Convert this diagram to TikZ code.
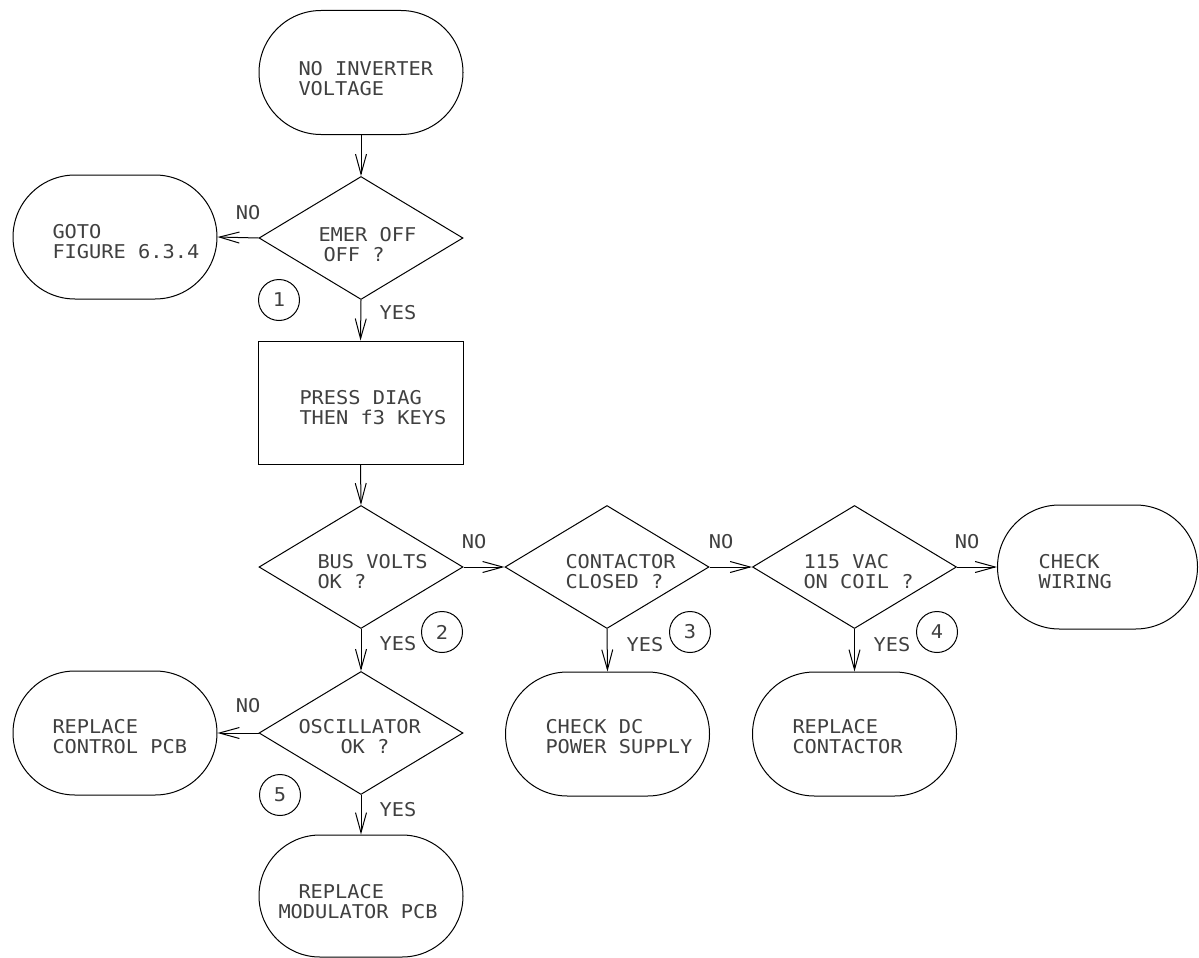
\documentclass[tikz,border=0pt]{standalone}
\usepackage{fontspec}
\newfontfamily\cadfont[FakeStretch=1.07]{DejaVu Sans Mono}
\usetikzlibrary{shapes.geometric,shapes.misc,arrows.meta}
\begin{document}
\begin{tikzpicture}[x=1pt,y=-1pt,
  line width=1pt,
  cadtext/.style={font=\cadfont\fontsize{19}{20}\selectfont, text=black!75},
  term/.style={draw, rounded rectangle,
    minimum width=204pt, minimum height=124pt, inner sep=0pt},
  dec/.style={draw, diamond, minimum width=204pt, minimum height=123pt, inner sep=0pt},
  proc/.style={draw, rectangle, minimum width=205pt, minimum height=123pt, inner sep=0pt},
  num/.style={draw, circle, minimum size=41pt, inner sep=0pt, cadtext},
  txt/.style={anchor=west, align=left, inner sep=0pt, cadtext},
  lbl/.style={inner sep=0pt, cadtext},
  flow/.style={-{Straight Barb[length=20pt,width=11pt]}}
]
\fill[white] (0,0) rectangle (1199,958);
\useasboundingbox (0,0) rectangle (1199,958);

% shapes
\node[term] (start) at (361,72.5) {};
\node[dec]  (emer) at (361,238) {};
\node[term] (goto) at (115,237) {};
\node[proc] (press) at (360.5,402.5) {};
\node[dec]  (bus) at (361,567) {};
\node[dec]  (cont) at (607,567) {};
\node[dec]  (vac) at (854.5,567) {};
\node[term, minimum width=200pt] (wiring) at (1097.5,567) {};
\node[dec]  (osc) at (361,733) {};
\node[term] (ctrl) at (115,733) {};
\node[term] (dcps) at (607.5,734) {};
\node[term] (rcont) at (854.5,734) {};
\node[term, minimum height=122pt] (modu) at (361,896) {};

% texts
\node[txt] (startT) at (298,78.5) {NO INVERTER\\VOLTAGE};
\node[txt] (gotoT) at (52,242) {GOTO\\FIGURE 6.3.4};
\node[txt] (emerT) at (318,245) {EMER OFF\\\hspace{5pt}OFF ?};
\node[txt] (pressT) at (299,407.5) {PRESS DIAG\\THEN f3 KEYS};
\node[txt] (busT) at (317,572) {BUS VOLTS\\OK ?};
\node[txt] (contT) at (565,572) {CONTACTOR\\CLOSED ?};
\node[txt] (vacT) at (803,572) {115 VAC\\ON COIL ?};
\node[txt] (wiringT) at (1038,572) {CHECK\\WIRING};
\node[txt] (ctrlT) at (52,737) {REPLACE\\CONTROL PCB};
\node[txt] (oscT) at (298,737) {OSCILLATOR\\\hspace{42pt}OK ?};
\node[txt] (dcpsT) at (545,737) {CHECK DC\\POWER SUPPLY};
\node[txt] (rcontT) at (792,737) {REPLACE\\CONTACTOR};
\node[txt] (moduT) at (278,902) {\hspace{20pt}REPLACE\\MODULATOR PCB};

% connectors
\draw[flow] (start.south) -- (emer.north);
\draw[flow] (emer.west) -- (goto.east);
\draw[flow] (emer.south) -- (press.north);
\draw[flow] (press.south) -- (bus.north);
\draw[flow] (bus.east) -- (cont.west);
\draw[flow] (cont.east) -- (vac.west);
\draw[flow] (vac.east) -- (wiring.west);
\draw[flow] (bus.south) -- (osc.north);
\draw[flow] (cont.south) -- (dcps.north);
\draw[flow] (vac.south) -- (rcont.north);
\draw[flow] (osc.west) -- (ctrl.east);
\draw[flow] (osc.south) -- (modu.north);

% branch labels
\node[lbl] (no1) at (248,213) {NO};
\node[lbl] (yes1) at (398,313) {YES};
\node[lbl] (no2) at (474,542) {NO};
\node[lbl] (no3) at (721,542) {NO};
\node[lbl] (no4) at (967,542) {NO};
\node[lbl] (yes2) at (398,644) {YES};
\node[lbl] (yes3) at (645,645) {YES};
\node[lbl] (yes4) at (892,645) {YES};
\node[lbl] (no5) at (248,706) {NO};
\node[lbl] (yes5) at (398,810) {YES};

% step numbers
\node[num] (c1) at (279,300) {1};
\node[num] (c2) at (442,632) {2};
\node[num] (c3) at (690,632) {3};
\node[num] (c4) at (937,632) {4};
\node[num] (c5) at (280,795) {5};
\end{tikzpicture}
\end{document}
